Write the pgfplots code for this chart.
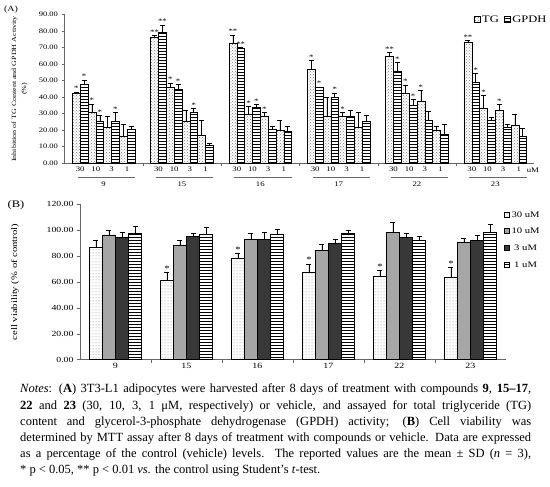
\documentclass[border=0pt]{standalone}
\usepackage{fontspec}
\setmainfont{Liberation Serif}
\newfontfamily\chartfont[FakeStretch=1.25]{Liberation Serif}
\usepackage{pgfplots}
\pgfplotsset{compat=1.18}
\usepackage{pgfplotstable}
\usetikzlibrary{patterns}

% Panel A: x = bar centre (10*group + 2*pair + series + 0.5)
\pgfplotstableread{
x    y     e    s
0.5  42.3  0.7  *
2.5  30.6  5.2  *
4.5  21.7  6.5  {}
6.5  16.5  7.0  {}
10.5 76.1  1.2  **
12.5 45.7  2.8  *
14.5 25.6  6.6  {}
16.5 16.9  9.3  {}
20.5 72.5  5.0  **
22.5 29.6  4.6  *
24.5 28.2  2.4  *
26.5 19.7  6.0  {}
30.5 57.0  5.0  *
32.5 28.4  11.3 {}
34.5 28.2  2.6  *
36.5 21.5  9.5  {}
40.5 64.6  2.4  **
42.5 42.1  5.2  *
44.5 37.6  6.3  *
46.5 19.9  2.2  {}
50.5 73.1  1.0  **
52.5 33.4  7.7  *
54.5 31.8  3.8  *
56.5 23.2  6.4  {}
}\TGdata
\pgfplotstableread{
x    y     e    s
1.5  47.7  2.6  *
3.5  25.2  3.6  *
5.5  25.2  5.6  *
7.5  20.5  1.6  {}
11.5 79.1  4.4  **
13.5 44.7  3.0  *
15.5 30.8  2.4  *
17.5 10.9  1.2  {}
21.5 69.5  0.3  **
23.5 33.6  2.0  *
25.5 20.5  1.6  {}
27.5 19.1  3.0  {}
31.5 45.9  0.3  *
33.5 39.9  2.6  *
35.5 28.2  3.6  {}
37.5 25.2  3.8  {}
41.5 55.8  5.2  *
43.5 35.0  3.7  *
45.5 26.0  5.2  {}
47.5 17.3  6.5  {}
51.5 48.7  5.7  *
53.5 26.2  1.4  {}
55.5 21.7  1.9  {}
57.5 16.3  4.8  {}
}\GPDHdata

% Panel B
\pgfplotstableread{
x      y     e    s
-0.275 87.0  5.2  {}
0.725  61.0  6.5  *
1.725  78.0  3.9  *
2.725  67.7  6.2  *
3.725  64.4  4.4  *
4.725  63.4  7.7  *
}\Bthirty
\pgfplotstableread{
x      y     e
-0.092 96.3  3.4
0.908  88.6  3.9
1.908  93.0  4.6
2.908  84.5  4.4
3.908  98.6  7.5
4.908  90.9  2.8
}\Bten
\pgfplotstableread{
x      y     e
0.092  94.3  3.8
1.092  95.5  1.8
2.092  93.0  5.1
3.092  90.1  3.1
4.092  94.5  3.1
5.092  92.2  4.1
}\Bthree
\pgfplotstableread{
x      y     e
0.275  97.6  5.2
1.275  96.8  5.2
2.275  96.8  4.1
3.275  97.3  2.9
4.275  91.9  3.1
5.275  98.6  6.2
}\Bone

\pgfplotsset{
  errstyle/.style={error bars/.cd, y dir=plus, y explicit,
    error bar style={black, line width=0.5pt, solid},
    error mark options={black, rotate=90, mark size=2.5pt, line width=0.5pt}},
  starstyle/.style={draw=none, mark=none, forget plot, nodes near coords,
    point meta=explicit symbolic,
    nodes near coords style={font=\chartfont\fontsize{7}{7}\selectfont, anchor=south, inner sep=1pt, black}},
}

\begin{document}
\begin{tikzpicture}[x=1pt,y=1pt]
\useasboundingbox (0,0) rectangle (550,487);

% ---------- Panel A ----------
\begin{axis}[
  at={(64.5pt,323.7pt)}, anchor=south west,
  scale only axis, width=470pt, height=149pt,
  xmin=-1, xmax=59, ymin=0, ymax=90,
  clip=false,
  axis x line*=bottom, axis y line*=left,
  axis line style={black!60, line width=0.5pt},
  tick align=outside, major tick length=3pt,
  tick style={black!60, line width=0.5pt},
  ytick={0,10,...,90},
  /pgf/number format/fixed, /pgf/number format/fixed zerofill,
  /pgf/number format/precision=2, /pgf/number format/assume math mode=true,
  yticklabel style={font=\chartfont\fontsize{6.8}{8}\selectfont, black},
  xtick={9,19,29,39,49}, xticklabels={},
  extra x ticks={1,3,5,7,11,13,15,17,21,23,25,27,31,33,35,37,41,43,45,47,51,53,55,57},
  extra x tick labels={30,10,3,1,30,10,3,1,30,10,3,1,30,10,3,1,30,10,3,1,30,10,3,1},
  extra x tick style={major tick length=0pt, xticklabel style={font=\chartfont\fontsize{7}{8}\selectfont, black}},
  legend style={at={(1.03,0.962)}, anchor=east, draw=none, fill=none,
    legend columns=2, font=\chartfont\fontsize{10}{10}\selectfont,
    /tikz/every even column/.append style={column sep=3pt}, inner sep=0pt},
  legend image code/.code={\draw[#1, line width=0.5pt] (0pt,-2.5pt) rectangle (6pt,3.5pt);},
]
\addplot[ybar, bar width=1, bar shift=0pt, draw=black, line width=0.5pt,
  pattern=crosshatch dots, pattern color=gray, errstyle]
  table[x=x, y=y, y error=e] {\TGdata};
\addlegendentry{TG}
\addplot[ybar, bar width=1, bar shift=0pt, draw=black, line width=0.5pt,
  pattern=horizontal lines, pattern color=black, errstyle]
  table[x=x, y=y, y error=e] {\GPDHdata};
\addlegendentry{GPDH}
\addplot[starstyle] table[x=x, y expr=\thisrow{y}+\thisrow{e}, meta=s] {\TGdata};
\addplot[starstyle] table[x=x, y expr=\thisrow{y}+\thisrow{e}, meta=s] {\GPDHdata};
% group underlines and names
\draw[black!60, line width=0.5pt] ([yshift=-14pt]axis cs:0.7,0) -- ([yshift=-14pt]axis cs:8,0);
\draw[black!60, line width=0.5pt] ([yshift=-14pt]axis cs:10.7,0) -- ([yshift=-14pt]axis cs:18,0);
\draw[black!60, line width=0.5pt] ([yshift=-14pt]axis cs:20.7,0) -- ([yshift=-14pt]axis cs:28,0);
\draw[black!60, line width=0.5pt] ([yshift=-14pt]axis cs:30.7,0) -- ([yshift=-14pt]axis cs:38,0);
\draw[black!60, line width=0.5pt] ([yshift=-14pt]axis cs:40.7,0) -- ([yshift=-14pt]axis cs:48,0);
\draw[black!60, line width=0.5pt] ([yshift=-14pt]axis cs:50.7,0) -- ([yshift=-14pt]axis cs:58,0);
\begin{scope}[every node/.style={font=\chartfont\fontsize{7}{8}\selectfont}]
\node at ([yshift=-21pt]axis cs:4,0) {9};
\node at ([yshift=-21pt]axis cs:14,0) {15};
\node at ([yshift=-21pt]axis cs:24,0) {16};
\node at ([yshift=-21pt]axis cs:34,0) {17};
\node at ([yshift=-21pt]axis cs:44,0) {22};
\node at ([yshift=-21pt]axis cs:54,0) {23};
\node at ([yshift=-7pt]axis cs:58.8,0) {uM};
\end{scope}
\end{axis}
\node[font=\chartfont\fontsize{8}{9}\selectfont] at (11,477) {(A)};
\node[rotate=90, align=center, font=\chartfont\fontsize{6.4}{10}\selectfont] at (19.5,398) {Inhibition of TG Content and GPDH Activity\\(\%)};

% ---------- Panel B ----------
\begin{axis}[
  at={(80pt,127.3pt)}, anchor=south west,
  scale only axis, width=426pt, height=155.4pt,
  xmin=-0.5, xmax=5.5, ymin=0, ymax=120,
  clip=false,
  axis x line*=bottom, axis y line*=left,
  axis line style={black!60, line width=0.5pt},
  tick align=outside, major tick length=3pt,
  tick style={black!60, line width=0.5pt},
  ytick={0,20,...,120},
  /pgf/number format/fixed, /pgf/number format/fixed zerofill,
  /pgf/number format/precision=2, /pgf/number format/assume math mode=true,
  yticklabel style={font=\chartfont\fontsize{7.8}{9}\selectfont, black},
  xtick={0.5,1.5,2.5,3.5,4.5}, xticklabels={},
  extra x ticks={0,1,2,3,4,5},
  extra x tick labels={9,15,16,17,22,23},
  extra x tick style={major tick length=0pt, xticklabel style={font=\chartfont\fontsize{8}{9}\selectfont, black}},
  legend style={at={(0.995,0.77)}, anchor=west, draw=none, fill=none,
    legend columns=1, font=\chartfont\fontsize{8.5}{9}\selectfont,
    row sep=5.5pt, inner sep=0pt},
  legend image code/.code={\draw[#1, line width=0.5pt] (0pt,-2pt) rectangle (5pt,3pt);},
]
\addplot[ybar, bar width=0.183, bar shift=0pt, draw=black, line width=0.6pt,
  pattern=dots, pattern color=gray, errstyle]
  table[x=x, y=y, y error=e] {\Bthirty};
\addlegendentry{30 uM}
\addplot[ybar, bar width=0.183, bar shift=0pt, draw=black, line width=0.6pt,
  fill=gray!70, errstyle]
  table[x=x, y=y, y error=e] {\Bten};
\addlegendentry{10 uM}
\addplot[ybar, bar width=0.183, bar shift=0pt, draw=black, line width=0.6pt,
  fill=black!78, errstyle]
  table[x=x, y=y, y error=e] {\Bthree};
\addlegendentry{3 uM}
\addplot[ybar, bar width=0.183, bar shift=0pt, draw=black, line width=0.6pt,
  pattern=horizontal lines, pattern color=black, errstyle]
  table[x=x, y=y, y error=e] {\Bone};
\addlegendentry{1 uM}
\addplot[starstyle, nodes near coords style={font=\chartfont\fontsize{8.5}{8}\selectfont}] table[x=x, y expr=\thisrow{y}+\thisrow{e}, meta=s] {\Bthirty};
\end{axis}
\node[font=\chartfont\fontsize{10}{11}\selectfont] at (16,282) {(B)};
\node[rotate=90, font=\chartfont\fontsize{8.5}{10}\selectfont] at (15,205) {cell viability (\% of control)};

% ---------- Notes ----------
\node[anchor=north west, inner sep=0pt, align=left, font=\fontsize{12.5}{16.2}\selectfont] at (20,103) {%
\hbox to 511pt{\textit{Notes}: (\textbf{A}) 3T3-L1 adipocytes were harvested after 8 days of treatment with compounds \textbf{9}, \textbf{15–17},}\\
\hbox to 511pt{\textbf{22} and \textbf{23} (30, 10, 3, 1 μM, respectively) or vehicle, and assayed for total triglyceride (TG)}\\
\hbox to 511pt{content and glycerol-3-phosphate dehydrogenase (GPDH) activity; (\textbf{B}) Cell viability was}\\
\hbox to 511pt{determined by MTT assay after 8 days of treatment with compounds or vehicle. Data are expressed}\\
\hbox to 511pt{as a percentage of the control (vehicle) levels. The reported values are the mean ± SD (\textit{n} = 3),}\\
* p < 0.05, ** p < 0.01 \textit{vs.} the control using Student’s \textit{t}-test.};
\end{tikzpicture}
\end{document}
